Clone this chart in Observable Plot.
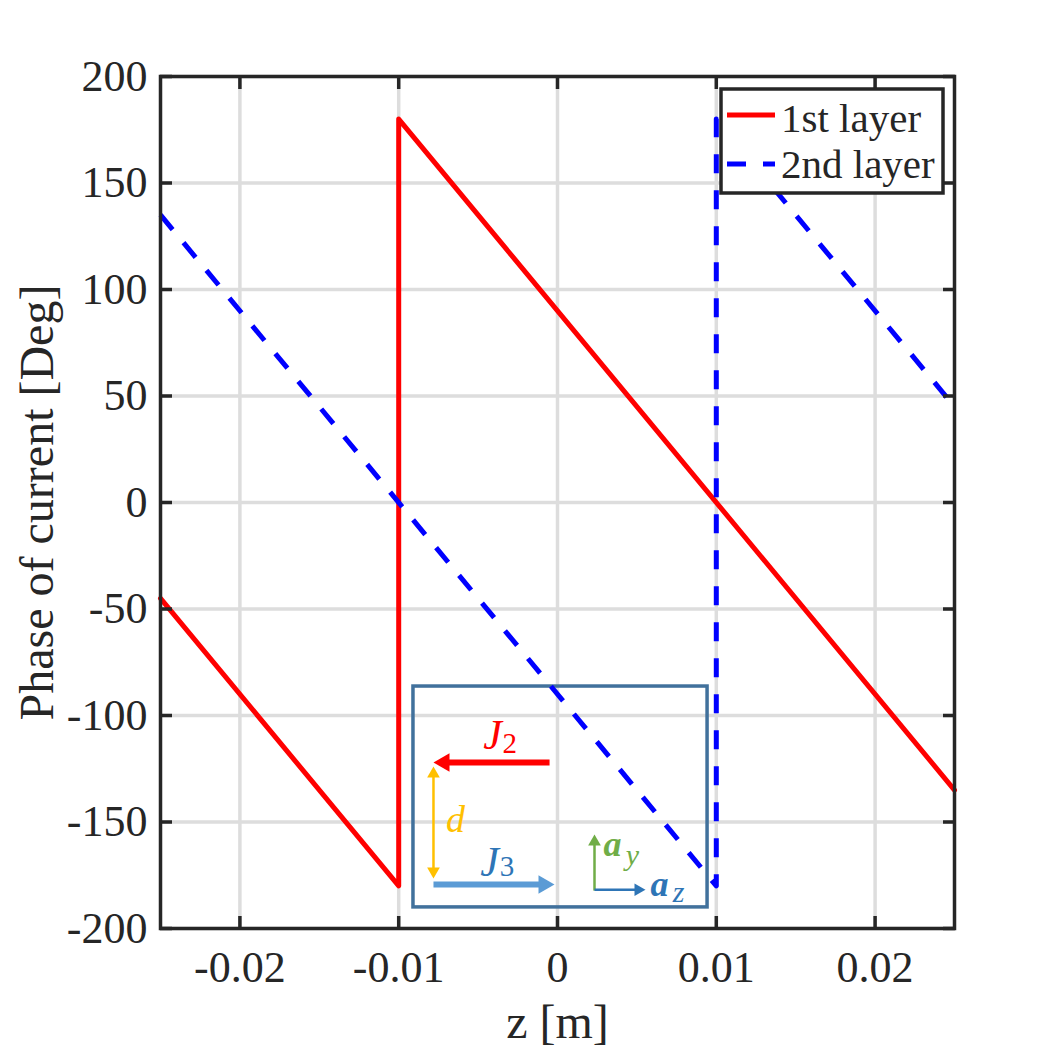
<!DOCTYPE html>
<html>
<head>
<meta charset="utf-8">
<script src="https://cdn.jsdelivr.net/npm/d3@7"></script>
<script src="https://cdn.jsdelivr.net/npm/@observablehq/plot@0.6"></script>
<style>
  html, body { margin: 0; padding: 0; background: #ffffff; }
  #chart { position: relative; width: 1055px; height: 1054px; }
</style>
</head>
<body>
<div id="chart"></div>
<script>
// Phase of the current along z for the two layers (wrapped to ±180°)
const zLayer1 = [-0.025, -0.01, -0.01, 0.025];
const phaseLayer1 = [-45, -180, 180, -135];
const zLayer2 = [-0.025, 0.01, 0.01, 0.025];
const phaseLayer2 = [135, -180, 180, 45];
const seriesNames = ["1st layer", "2nd layer"];
const seriesColors = ["#ff0000", "#0000ff"];

// Axis ticks
const xTicks = [-0.02, -0.01, 0, 0.01, 0.02];
const yTicks = [-200, -150, -100, -50, 0, 50, 100, 150, 200];

// Inset sketch of the geometry (z, phase coordinates)
const insetBox = {x1: -0.00907, x2: 0.00945, y1: -86.4, y2: -190.1};
const insetArrows = [
  {x1: -0.0005, y1: -122.1, x2: -0.00781, y2: -122.1, color: "#ff0000", width: 6, head: 16, both: false},
  {x1: -0.00781, y1: -179.3, x2: -0.00019, y2: -179.3, color: "#5b9bd5", width: 6, head: 16, both: false},
  {x1: -0.00781, y1: -176.5, x2: -0.00781, y2: -123.9, color: "#ffc000", width: 2.5, head: 11, both: true},
  {x1: 0.00233, y1: -182.2, x2: 0.00233, y2: -155.9, color: "#70ad47", width: 2.5, head: 11, both: false},
  {x1: 0.00233, y1: -181.8, x2: 0.00554, y2: -181.8, color: "#2e75b6", width: 2.5, head: 11, both: false}
];
const insetLabels = [
  {x: -0.00409, y: -109.5, text: "J", color: "#ff0000", size: 42, style: "italic", weight: "normal"},
  {x: -0.00300, y: -113.2, text: "2", color: "#ff0000", size: 29, style: "normal", weight: "normal"},
  {x: -0.00642, y: -148.8, text: "d", color: "#ffc000", size: 38, style: "italic", weight: "normal"},
  {x: -0.00428, y: -169.0, text: "J", color: "#2e75b6", size: 42, style: "italic", weight: "normal"},
  {x: -0.00318, y: -171.0, text: "3", color: "#2e75b6", size: 29, style: "normal", weight: "normal"},
  {x: 0.00346, y: -160.5, text: "a", color: "#70ad47", size: 36, style: "italic", weight: "bold"},
  {x: 0.00472, y: -165.5, text: "y", color: "#70ad47", size: 30, style: "italic", weight: "normal"},
  {x: 0.00642, y: -179.2, text: "a", color: "#2e75b6", size: 36, style: "italic", weight: "bold"},
  {x: 0.00762, y: -183.0, text: "z", color: "#2e75b6", size: 30, style: "italic", weight: "normal"}
];

const layer1 = zLayer1.map((z, i) => ({z, phase: phaseLayer1[i]}));
const layer2 = zLayer2.map((z, i) => ({z, phase: phaseLayer2[i]}));

const ink = "#262626";
const serif = "Liberation Serif, 'Times New Roman', serif";
const numFmt = d => String(d);

// Filled arrowheads: d3 triangle symbol rotated toward the arrow direction
function headMarks(a) {
  const tipOffset = (2 * a.head) / 3;
  const r = (a.head / 3) * Math.sqrt(3 * Math.sqrt(3) / Math.PI);
  const dir = (sx, sy, ex, ey) => {
    if (sy === ey) return ex > sx ? {rotate: 90, dx: -tipOffset, dy: 0} : {rotate: -90, dx: tipOffset, dy: 0};
    return ey > sy ? {rotate: 0, dx: 0, dy: tipOffset} : {rotate: 180, dx: 0, dy: -tipOffset};
  };
  const out = [];
  const e = dir(a.x1, a.y1, a.x2, a.y2);
  out.push(Plot.dot([a], {x: "x2", y: "y2", symbol: "triangle", r, fill: a.color, stroke: "none", ...e}));
  if (a.both) {
    const s = dir(a.x2, a.y2, a.x1, a.y1);
    out.push(Plot.dot([a], {x: "x1", y: "y1", symbol: "triangle", r, fill: a.color, stroke: "none", ...s}));
  }
  return out;
}

const arrowMarks = insetArrows.flatMap(a => [
  Plot.arrow([a], {
    x1: "x1", y1: "y1", x2: "x2", y2: "y2",
    stroke: a.color, strokeWidth: a.width, headLength: 0, strokeLinecap: "butt",
    insetEnd: a.head * 0.8, insetStart: a.both ? a.head * 0.8 : 0
  }),
  ...headMarks(a)
]);

const labelMarks = insetLabels.map(l =>
  Plot.text([l], {
    x: "x", y: "y", text: "text", fill: l.color, fontSize: l.size,
    fontStyle: l.style, fontWeight: l.weight, fontFamily: serif
  })
);

const plot = Plot.plot({
  width: 1055,
  height: 1054,
  marginLeft: 160,
  marginRight: 101,
  marginTop: 76,
  marginBottom: 126,
  style: {fontFamily: serif, color: ink, background: "#ffffff"},
  x: {domain: [-0.025, 0.025]},
  y: {domain: [-200, 200]},
  marks: [
    Plot.gridX(xTicks, {stroke: "#dddddd", strokeOpacity: 1, strokeWidth: 3.5}),
    Plot.gridY(yTicks, {stroke: "#dddddd", strokeOpacity: 1, strokeWidth: 3.5}),
    Plot.rect([insetBox], {x1: "x1", x2: "x2", y1: "y1", y2: "y2", fill: "none", stroke: "#41719c", strokeWidth: 3.5}),
    Plot.line(layer1, {x: "z", y: "phase", stroke: seriesColors[0], strokeWidth: 5, strokeLinejoin: "round"}),
    Plot.line(layer2, {x: "z", y: "phase", stroke: seriesColors[1], strokeWidth: 5, strokeDasharray: "19,17", strokeLinecap: "butt"}),
    ...arrowMarks,
    ...labelMarks,
    // tick labels
    Plot.axisX(xTicks, {anchor: "bottom", tickSize: 0, tickPadding: 22, fontSize: 44, tickFormat: numFmt, label: null, fill: ink}),
    Plot.axisY(yTicks, {anchor: "left", tickSize: 0, tickPadding: 13, fontSize: 44, tickFormat: numFmt, label: null, fill: ink}),
    // inward ticks on all four sides
    Plot.axisX(xTicks, {anchor: "bottom", tickSize: -12, fill: "none", label: null, stroke: ink, strokeWidth: 3.5}),
    Plot.axisX(xTicks, {anchor: "top", tickSize: -12, fill: "none", label: null, stroke: ink, strokeWidth: 3.5}),
    Plot.axisY(yTicks, {anchor: "left", tickSize: -12, fill: "none", label: null, stroke: ink, strokeWidth: 3.5}),
    Plot.axisY(yTicks, {anchor: "right", tickSize: -12, fill: "none", label: null, stroke: ink, strokeWidth: 3.5}),
    Plot.frame({stroke: ink, strokeWidth: 3.5}),
    // axis titles
    Plot.text(["z [m]"], {frameAnchor: "bottom", dy: 94, fontSize: 48, lineAnchor: "middle", textAnchor: "middle", fill: ink}),
    Plot.text(["Phase of current [Deg]"], {frameAnchor: "left", dx: -123, rotate: -90, fontSize: 48, lineAnchor: "middle", textAnchor: "middle", fill: ink})
  ]
});

document.getElementById("chart").appendChild(plot);

// Legend box in the upper-right corner of the axes
const svg = d3.select(plot);
const lg = svg.append("g").attr("class", "legend").attr("text-anchor", "start");
lg.append("rect")
  .attr("x", 721).attr("y", 89).attr("width", 222).attr("height", 104)
  .attr("fill", "#ffffff").attr("stroke", ink).attr("stroke-width", 3.5);
const rows = [
  {y: 115, base: 132, dash: null},
  {y: 164, base: 178, dash: "19,17"}
];
seriesNames.forEach((name, i) => {
  const r = rows[i];
  const ln = lg.append("line")
    .attr("x1", 727).attr("x2", 775).attr("y1", r.y).attr("y2", r.y)
    .attr("stroke", seriesColors[i]).attr("stroke-width", 5);
  if (r.dash) ln.attr("stroke-dasharray", r.dash);
  lg.append("text")
    .attr("x", 781).attr("y", r.base)
    .attr("text-anchor", "start")
    .attr("font-size", 41).attr("fill", ink)
    .attr("font-family", serif)
    .text(name);
});
</script>
</body>
</html>
